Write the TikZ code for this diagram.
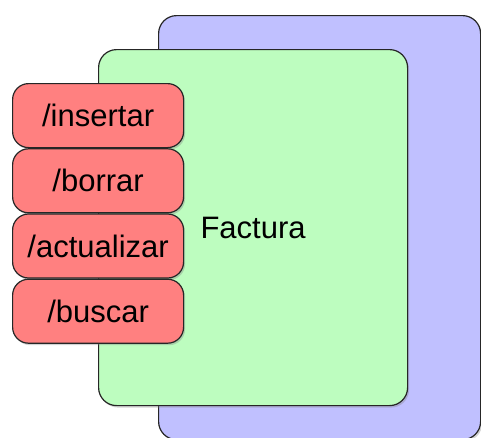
\documentclass[tikz,border=0pt]{standalone}
\usepackage{fontspec}
\setmainfont{Liberation Sans}
\usetikzlibrary{positioning,shadows}

\definecolor{fondoazul}{HTML}{C0C0FF}
\definecolor{fondoverde}{HTML}{BDFDBF}
\definecolor{fondorojo}{HTML}{FF8080}

\tikzset{
    caja/.style={draw=black!85, line width=1.2pt, rounded corners=18pt,
        drop shadow={shadow xshift=1.5pt, shadow yshift=-2pt, opacity=.35}},
    recurso/.style={caja, fill=fondorojo, rounded corners=16pt,
        minimum width=171pt, minimum height=64pt, inner sep=0pt,
        font=\fontsize{31}{36}\selectfont}
}

\begin{document}
\begin{tikzpicture}[x=1pt, y=-1pt]
            % ==== CANVAS ====
            \useasboundingbox (0,0) rectangle (481,437);
            \clip (0,0) rectangle (481,437);

            % ==== BACK LAYER ====
            \node[caja, fill=fondoazul, anchor=north west,
                minimum width=322pt, minimum height=424pt] (fondo) at (158,15) {};

            % ==== FACTURA ====
            \node[caja, fill=fondoverde, anchor=north west,
                minimum width=309pt, minimum height=356pt,
                font=\fontsize{31}{36}\selectfont] (factura) at (98,49) {Factura};

            % ==== RESOURCES ====
            \node[recurso, anchor=north west] (insertar) at (12,83) {/insertar};
            \node[recurso, below=0pt of insertar] (borrar) {/borrar};
            \node[recurso, below=0pt of borrar] (actualizar) {/actualizar};
            \node[recurso, below=0pt of actualizar] (buscar) {/buscar};
        \end{tikzpicture}
\end{document}
